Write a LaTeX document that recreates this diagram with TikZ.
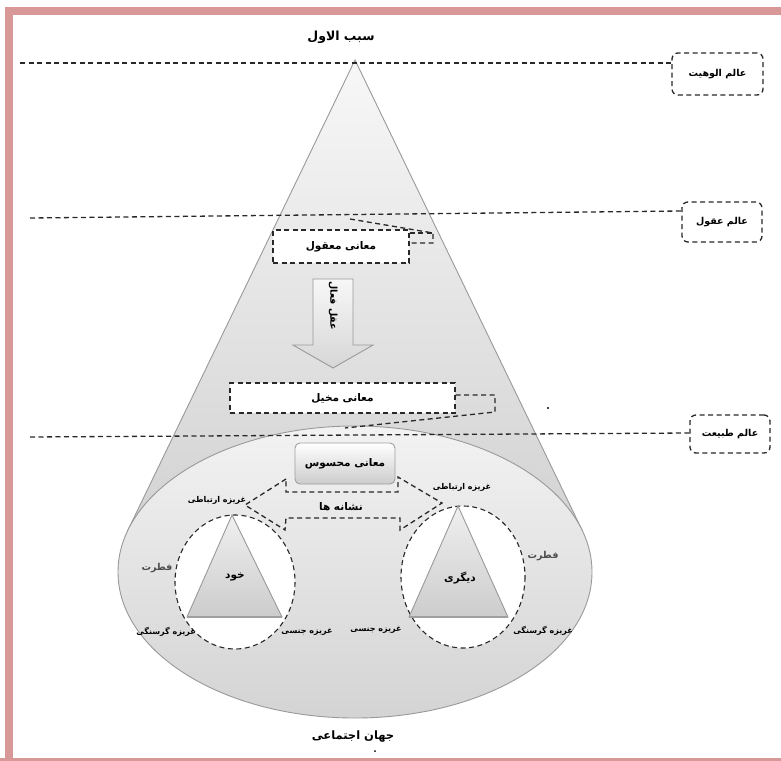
\documentclass[tikz,border=0pt]{standalone}
\usepackage{fontspec}
\newfontfamily\arfont[Script=Arabic]{DejaVu Sans}
\TeXXeTstate=1
\newcommand{\artxt}[1]{{\arfont\beginR #1\endR}}
\definecolor{frame}{RGB}{217,152,152}
\definecolor{lineblk}{RGB}{40,40,40}
\tikzset{
  dline/.style={draw=lineblk, dash pattern=on 5pt off 3.5pt, line width=1.3pt},
  sidebox/.style={dline, rounded corners=6pt, fill=white, inner sep=0pt},
  midbox/.style={dline, fill=white, inner sep=0pt},
  lbl/.style={inner sep=1pt, font=\fontsize{9.5}{11}\selectfont\bfseries},
  biglbl/.style={inner sep=1pt, font=\fontsize{10.5}{12}\selectfont\bfseries},
  smalllbl/.style={inner sep=1pt, font=\fontsize{8}{10}\selectfont\bfseries},
  outl/.style={draw=gray!80, line width=0.9pt}
}
\begin{document}
\begin{tikzpicture}[x=1pt,y=-1pt]
\useasboundingbox (0,0) rectangle (781,760);
\fill[white] (0,0) rectangle (781,760);
% frame
\begin{scope}
\clip (0,0) rectangle (781,760);
\draw[frame, line width=8pt] (9,11) -- (790,11);
\draw[frame, line width=8pt] (9,7) -- (9,770);
\draw[frame, line width=8pt] (0,762) -- (790,762);
\end{scope}
% cone
\shadedraw[top color=gray!6, bottom color=gray!35, outl] (355,60) -- (128,530) -- (582,530) -- cycle;
% ellipse (social world)
\shadedraw[top color=gray!10, bottom color=gray!34, outl] (355,572) ellipse [x radius=237, y radius=146];
% circles
\draw[dline, fill=white, line width=1.1pt] (235,582) ellipse [x radius=60, y radius=67];
\draw[dline, fill=white, line width=1.1pt] (463,577) ellipse [x radius=62, y radius=71];
% triangles
\shadedraw[top color=gray!12, bottom color=gray!40, outl] (232,515) -- (187,617) -- (282,617) -- cycle;
\draw[gray!75, line width=1.8pt] (187,617) -- (282,617);
\shadedraw[top color=gray!12, bottom color=gray!40, outl] (458,506) -- (409,617) -- (508,617) -- cycle;
\draw[gray!75, line width=1.8pt] (409,617) -- (508,617);
% block arrow
\shadedraw[top color=gray!6, bottom color=gray!32, outl] (313,279) -- (353,279) -- (353,345) -- (373,345) -- (333,368) -- (293,345) -- (313,345) -- cycle;
\node[lbl, rotate=-90] (aql) at (333,306) {\artxt{عقل فعال}};
% side boxes
\node[sidebox, minimum width=91pt, minimum height=42pt] (box1) at (717.5,74) {\artxt{\fontsize{9.5}{11}\selectfont\bfseries عالم الوهیت}};
\node[sidebox, minimum width=80pt, minimum height=40pt] (box2) at (722,222) {\artxt{\fontsize{9.5}{11}\selectfont\bfseries عالم عقول}};
\node[sidebox, minimum width=80pt, minimum height=38pt] (box3) at (730,434) {\artxt{\fontsize{9.5}{11}\selectfont\bfseries عالم طبیعت}};
% level lines
\coordinate (l1) at (20,63);
\coordinate (l2) at (30,218);
\coordinate (l3) at (30,437);
\draw[dline] (l1) -- (box1.west |- 0,63);
\draw[dline] (l2) -- (box2.west |- 0,211);
\draw[dline] (l3) -- (box3.west |- 0,433);
% middle boxes
\node[midbox, minimum width=136pt, minimum height=33pt] (maqul) at (341,246.5) {};
\node[biglbl] at (maqul.center) {\artxt{معانی معقول}};
\node[midbox, minimum width=225pt, minimum height=30pt] (mokhayyal) at (342.5,398) {};
\node[biglbl] at (mokhayyal.center) {\artxt{معانی مخیل}};
% brackets
\draw[dline] (350,219) -- (433,233) -- (433,243) -- (maqul.east |- 0,243);
\draw[dline] (maqul.east |- 0,233) -- (433,233);
\draw[dline] (mokhayyal.east |- 0,395) -- (495,395) -- (495,412) -- (345,428);
% dashed double arrow (signs)
\draw[dline] (286,479) -- (245,505) -- (285,530) -- (286,518) -- (400,518) -- (400,530) -- (442,503) -- (398,477) -- (398,492) -- (286,492) -- cycle;
\node[biglbl] (signs) at (341,507) {\artxt{نشانه ها}};
% sensory box
\node[draw=gray!75, line width=0.9pt, rounded corners=5pt, top color=white, bottom color=gray!40, minimum width=100pt, minimum height=41pt, inner sep=0pt] (mahsus) at (345,463.5) {};
\node[biglbl] at (mahsus.center) {\artxt{معانی محسوس}};
% texts
\node[inner sep=1pt, font=\fontsize{12.5}{14}\selectfont\bfseries] (sabab) at (341,37) {\artxt{سبب الاول}};
\node[smalllbl] (ertL) at (217,500) {\artxt{غریزه ارتباطی}};
\node[smalllbl] (ertR) at (462,487) {\artxt{غریزه ارتباطی}};
\node[biglbl] (khod) at (235,577) {\artxt{خود}};
\node[biglbl] (digari) at (460,578) {\artxt{دیگری}};
\node[lbl, text=black!70] (fitL) at (157,568) {\artxt{فطرت}};
\node[lbl, text=black!70] (fitR) at (543,556) {\artxt{فطرت}};
\node[smalllbl] (gorL) at (166,632) {\artxt{غریزه گرسنگی}};
\node[smalllbl] (gorR) at (543,631) {\artxt{غریزه گرسنگی}};
\node[smalllbl] (jenL) at (307,632) {\artxt{غریزه جنسی}};
\node[smalllbl] (jenR) at (376,630) {\artxt{غریزه جنسی}};
\node[inner sep=1pt, font=\fontsize{11.5}{13}\selectfont\bfseries] (jahan) at (353,737) {\artxt{جهان اجتماعی}};
% stray dots
\fill[black] (548,408) circle (1.2);
\fill[black] (375,751) circle (1);
\end{tikzpicture}
\end{document}
